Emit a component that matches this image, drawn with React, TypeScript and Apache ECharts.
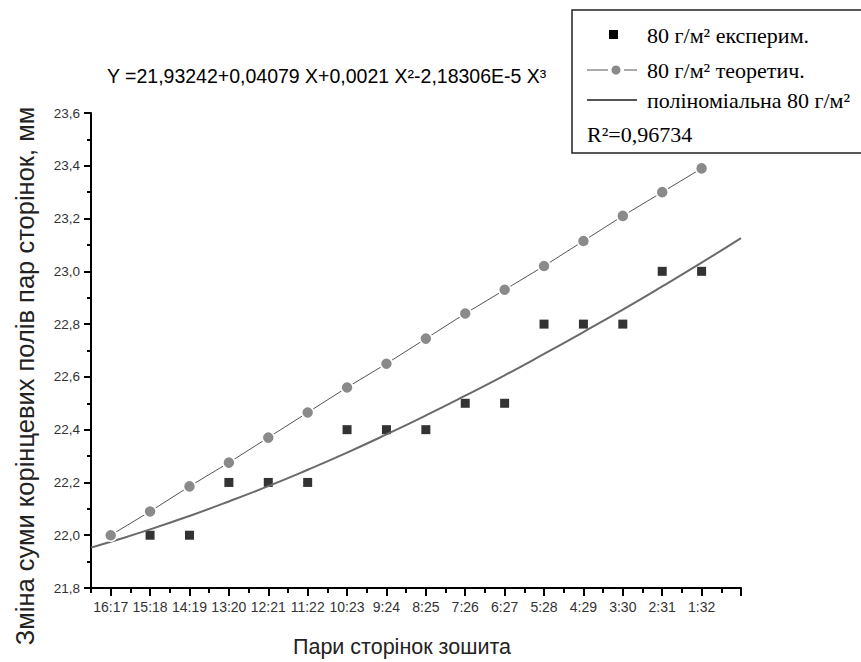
import React, { useEffect, useRef } from "react";
import * as echarts from "echarts";

const pairLabels = ["16:17", "15:18", "14:19", "13:20", "12:21", "11:22", "10:23", "9:24", "8:25", "7:26", "6:27", "5:28", "4:29", "3:30", "2:31", "1:32"];
const experimental = [22.0, 22.0, 22.0, 22.2, 22.2, 22.2, 22.4, 22.4, 22.4, 22.5, 22.5, 22.8, 22.8, 22.8, 23.0, 23.0];
const theoretical = [22.0, 22.09, 22.185, 22.275, 22.37, 22.465, 22.56, 22.65, 22.745, 22.84, 22.93, 23.02, 23.115, 23.21, 23.3, 23.39];
const fitX = [0.5, 1, 2, 3, 4, 5, 6, 7, 8, 9, 10, 11, 12, 13, 14, 15, 16, 17];
const fitY = [21.953, 21.975, 22.022, 22.073, 22.128, 22.186, 22.248, 22.313, 22.382, 22.454, 22.529, 22.606, 22.687, 22.77, 22.855, 22.943, 23.033, 23.126];
const yTicks = { min: 21.8, max: 23.6, step: 0.2 };

export default function App() {
  const ref = useRef<HTMLDivElement>(null);
  useEffect(() => {
    document.body.style.margin = "0";
    const chart = echarts.init(ref.current!, null, { renderer: "svg" });
    const xs = pairLabels.map((_, i) => i + 1);
    const halfTicks = [0.5, ...xs.map((v) => v + 0.5).filter((v) => v < 17)];
    const sans = "Liberation Sans, Arial, sans-serif";
    const serif = "Liberation Serif, Times New Roman, serif";
    chart.setOption({
      animation: false,
      backgroundColor: "#fff",
      grid: { left: 91, top: 113, right: 120, bottom: 74 },
      xAxis: [
        {
          type: "value",
          min: 0.5,
          max: 17,
          interval: 0.5,
          splitLine: { show: false },
          axisLine: { show: true, onZero: false, lineStyle: { color: "#000", width: 2 } },
          axisTick: { show: true, length: 8, customValues: [...xs, 17], lineStyle: { color: "#000", width: 2 } },
          axisLabel: {
            customValues: xs,
            formatter: (v: number) => pairLabels[Math.round(v) - 1] ?? "",
            color: "#333",
            fontSize: 14,
            fontFamily: sans,
            margin: 12,
          },
        },
        {
          type: "value",
          min: 0.5,
          max: 17,
          position: "bottom",
          splitLine: { show: false },
          axisLine: { show: false, onZero: false },
          axisTick: { show: true, length: 5, customValues: halfTicks, lineStyle: { color: "#000", width: 2 } },
          axisLabel: { show: false },
        },
      ],
      yAxis: {
        type: "value",
        min: yTicks.min,
        max: yTicks.max,
        interval: yTicks.step,
        splitLine: { show: false },
        axisLine: { show: true, onZero: false, lineStyle: { color: "#000", width: 2 } },
        axisTick: { show: true, length: 7, lineStyle: { color: "#000", width: 2 } },
        minorTick: { show: true, splitNumber: 2, length: 4, lineStyle: { color: "#000", width: 2 } },
        axisLabel: {
          formatter: (v: number) => v.toFixed(1).replace(".", ","),
          color: "#333",
          fontSize: 13.5,
          fontFamily: sans,
          margin: 11,
        },
      },
      series: [
        {
          type: "scatter",
          data: xs.map((x, i) => [x, experimental[i]]),
          symbol: "rect",
          symbolSize: 9,
          itemStyle: { color: "#000" },
          z: 3,
        },
        {
          type: "line",
          data: fitX.map((x, i) => [x, fitY[i]]),
          smooth: true,
          showSymbol: false,
          symbol: "none",
          lineStyle: { color: "#6a6a6a", width: 2 },
          z: 4,
        },
        {
          type: "line",
          data: xs.map((x, i) => [x, theoretical[i]]),
          symbol: "circle",
          symbolSize: 12,
          itemStyle: { color: "#8a8a8a", borderColor: "#fff", borderWidth: 1.5 },
          lineStyle: { color: "#555", width: 1 },
          z: 5,
        },
      ],
      graphic: [
        {
          type: "text",
          left: 107,
          top: 66,
          style: { text: "Y =21,93242+0,04079 X+0,0021 X²-2,18306E-5 X³", font: `19.5px ${sans}`, fill: "#000" },
        },
        {
          type: "text",
          x: 25,
          y: 376,
          rotation: Math.PI / 2,
          style: { text: "Зміна суми корінцевих полів пар сторінок, мм", font: `25.5px ${sans}`, fill: "#222", align: "center", verticalAlign: "middle" },
        },
        {
          type: "text",
          x: 402,
          y: 647,
          style: { text: "Пари сторінок зошита", font: `21.5px ${sans}`, fill: "#222", align: "center", verticalAlign: "middle" },
        },
        {
          type: "group",
          children: [
            { type: "rect", shape: { x: 572, y: 10, width: 300, height: 143 }, style: { fill: "#fff", stroke: "#222", lineWidth: 1.5 } },
            { type: "rect", shape: { x: 609, y: 30, width: 9, height: 9 }, style: { fill: "#000" } },
            { type: "text", x: 647, y: 35, style: { text: "80 г/м² експерим.", font: `22px ${serif}`, fill: "#000", verticalAlign: "middle" } },
            { type: "line", shape: { x1: 587, y1: 70, x2: 608, y2: 70 }, style: { stroke: "#555", lineWidth: 1 } },
            { type: "line", shape: { x1: 624, y1: 70, x2: 637, y2: 70 }, style: { stroke: "#555", lineWidth: 1 } },
            { type: "circle", shape: { cx: 616, cy: 70, r: 4.5 }, style: { fill: "#8a8a8a" } },
            { type: "text", x: 647, y: 70, style: { text: "80 г/м² теоретич.", font: `22px ${serif}`, fill: "#000", verticalAlign: "middle" } },
            { type: "line", shape: { x1: 587, y1: 100, x2: 637, y2: 100 }, style: { stroke: "#555", lineWidth: 2 } },
            { type: "text", x: 647, y: 100, style: { text: "поліноміальна 80 г/м²", font: `22px ${serif}`, fill: "#000", verticalAlign: "middle" } },
            { type: "text", x: 587, y: 134, style: { text: "R²=0,96734", font: `22px ${serif}`, fill: "#000", verticalAlign: "middle" } },
          ],
        },
      ],
    });
    return () => chart.dispose();
  }, []);
  return <div ref={ref} style={{ width: 861, height: 662 }} />;
}
